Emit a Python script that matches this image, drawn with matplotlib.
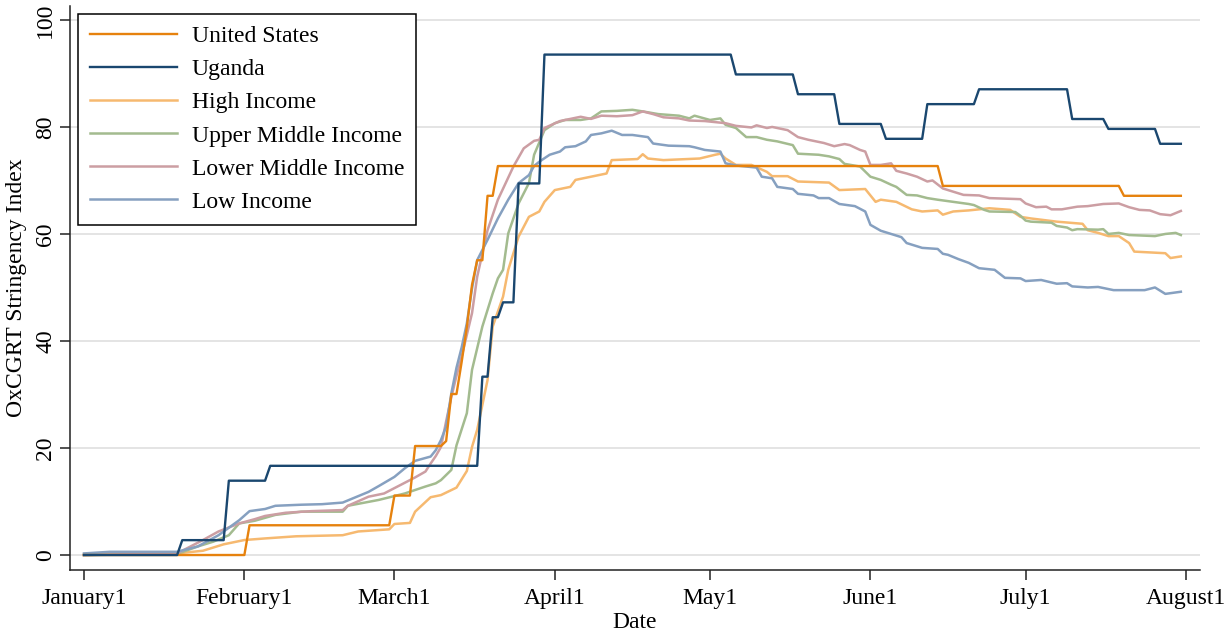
import matplotlib
matplotlib.use("Agg")
import matplotlib.pyplot as plt

plt.rcParams['font.family'] = ['Liberation Serif', 'DejaVu Serif']

# day offset from 2020-01-01 and OxCGRT stringency values
us = [(0, 0), (31, 0), (32, 5.56), (59, 5.56), (60, 11.11), (63, 11.11), (64, 20.37), (69, 20.37),
      (70, 21.3), (71, 30.09), (72, 30.09), (73, 36.1), (74, 42.59), (75, 50.5), (76, 55.09),
      (77, 55.09), (78, 67.13), (79, 67.13), (80, 72.69), (165, 72.69), (166, 68.98),
      (200, 68.98), (201, 67.13), (212, 67.13)]

uganda = [(0, 0), (18, 0), (19, 2.78), (27, 2.78), (28, 13.89), (35, 13.89), (36, 16.67),
          (76, 16.67), (77, 33.33), (78, 33.33), (79, 44.44), (80, 44.44), (81, 47.22),
          (83, 47.22), (84, 69.44), (88, 69.44), (89, 93.52), (125, 93.52), (126, 89.81),
          (137, 89.81), (138, 86.11), (145, 86.11), (146, 80.56), (154, 80.56), (155, 77.78),
          (162, 77.78), (163, 84.26), (172, 84.26), (173, 87.04), (190, 87.04), (191, 81.48),
          (197, 81.48), (198, 79.63), (207, 79.63), (208, 76.85), (212, 76.85)]

high = [(0, 0), (18, 0.3), (23, 0.8), (27, 2.0), (31, 2.8), (35, 3.1), (41, 3.5), (50, 3.7),
        (53, 4.4), (59, 4.8), (60, 5.8), (63, 6.0), (64, 8.1), (67, 10.8), (69, 11.2), (72, 12.6),
        (74, 15.7), (75, 20.2), (76, 23.4), (78, 32.7), (79, 42.7), (81, 48.3), (82, 53.3),
        (84, 59.5), (86, 63.2), (88, 64.2), (89, 66.0), (91, 68.2), (94, 68.8), (95, 70.1),
        (98, 70.7), (101, 71.3), (102, 73.8), (107, 74.0), (108, 74.9), (109, 74.1), (112, 73.8),
        (119, 74.1), (122, 74.8), (123, 75.0), (124, 74.1), (126, 72.9), (129, 72.9), (132, 71.6),
        (133, 70.8), (136, 70.8), (138, 69.8), (144, 69.6), (146, 68.2), (151, 68.4), (153, 66.0),
        (154, 66.4), (157, 66.0), (160, 64.6), (162, 64.2), (165, 64.4), (166, 63.6), (168, 64.2),
        (171, 64.4), (175, 64.8), (179, 64.5), (181, 63.2), (183, 62.9), (188, 62.3), (193, 61.9),
        (194, 60.7), (196, 60.2), (198, 59.6), (200, 59.6), (202, 58.3), (203, 56.7), (209, 56.4),
        (210, 55.5), (212, 55.8)]

upper_mid = [(0, 0), (18, 0.2), (22, 1.6), (25, 2.5), (28, 3.7), (30, 5.9), (33, 6.4), (37, 7.5),
             (42, 8.1), (50, 8.1), (51, 9.2), (57, 10.3), (62, 11.5), (66, 12.8), (68, 13.4),
             (69, 14.0), (71, 15.9), (72, 20.5), (73, 23.5), (74, 26.5), (75, 34.6), (77, 42.7),
             (79, 48.9), (80, 51.7), (81, 53.3), (82, 60.1), (84, 65.7), (86, 69.5), (87, 74.8),
             (89, 79.4), (91, 80.7), (93, 81.3), (96, 81.3), (98, 81.6), (100, 82.9), (103, 83.0),
             (106, 83.2), (108, 82.9), (111, 82.4), (115, 82.1), (117, 81.6), (118, 82.1),
             (121, 81.3), (123, 81.6), (124, 80.4), (126, 79.8), (128, 78.1), (130, 78.1),
             (132, 77.6), (134, 77.3), (137, 76.6), (138, 75.0), (142, 74.8), (144, 74.5),
             (146, 74.0), (147, 73.1), (150, 72.6), (152, 70.7), (154, 70.1), (156, 69.2),
             (157, 68.8), (159, 67.3), (161, 67.2), (163, 66.7), (165, 66.4), (168, 66.0),
             (171, 65.6), (172, 65.4), (174, 64.5), (175, 64.2), (180, 64.1), (181, 63.4),
             (182, 62.5), (183, 62.3), (187, 62.1), (188, 61.5), (190, 61.2), (191, 60.7),
             (192, 60.9), (196, 60.8), (197, 60.9), (198, 60.0), (200, 60.2), (202, 59.8),
             (207, 59.6), (209, 60.0), (211, 60.2), (212, 59.8)]

lower_mid = [(0, 0), (18, 0.3), (23, 2.8), (26, 4.4), (30, 5.9), (33, 6.7), (35, 7.3), (39, 7.9),
             (44, 8.2), (50, 8.4), (51, 9.2), (55, 10.9), (58, 11.5), (60, 12.5), (64, 14.5),
             (66, 15.6), (67, 17.1), (68, 18.5), (69, 20.2), (70, 25.0), (71, 29.5), (72, 33.5),
             (73, 37.1), (75, 45.2), (76, 52.0), (78, 60.7), (80, 66.4), (83, 72.6), (85, 76.0),
             (87, 77.4), (88, 77.6), (89, 79.8), (92, 81.1), (96, 81.9), (98, 81.5), (100, 82.1),
             (103, 82.0), (106, 82.2), (108, 82.9), (110, 82.4), (112, 81.8), (115, 81.6),
             (117, 81.2), (120, 81.1), (124, 80.7), (126, 80.2), (129, 79.9), (130, 80.3),
             (132, 79.8), (133, 80.0), (136, 79.4), (138, 78.1), (140, 77.6), (143, 77.0),
             (145, 76.4), (147, 76.8), (148, 76.6), (150, 75.7), (151, 75.4), (152, 72.9),
             (154, 72.9), (156, 73.2), (157, 71.8), (159, 71.3), (161, 70.7), (163, 69.8),
             (164, 70.0), (166, 68.5), (168, 67.9), (170, 67.3), (173, 67.2), (175, 66.7),
             (181, 66.5), (182, 65.7), (184, 65.0), (186, 65.1), (187, 64.6), (189, 64.6),
             (192, 65.1), (194, 65.2), (197, 65.6), (200, 65.7), (202, 65.0), (204, 64.5),
             (206, 64.4), (208, 63.7), (210, 63.5), (212, 64.3)]

low = [(0, 0.3), (5, 0.6), (18, 0.6), (22, 1.6), (26, 3.7), (30, 6.5), (32, 8.2), (35, 8.6),
       (37, 9.2), (42, 9.4), (46, 9.5), (50, 9.8), (52, 10.6), (55, 11.8), (57, 12.9), (60, 14.6),
       (62, 16.2), (64, 17.6), (67, 18.4), (68, 19.6), (69, 21.5), (70, 24.0), (71, 30.2),
       (72, 35.0), (73, 38.8), (74, 43.3), (75, 49.8), (76, 55.1), (78, 58.9), (80, 62.9),
       (82, 66.4), (84, 69.5), (86, 71.0), (87, 72.7), (88, 73.5), (90, 74.8), (92, 75.4),
       (93, 76.2), (95, 76.4), (97, 77.3), (98, 78.5), (100, 78.8), (102, 79.3), (104, 78.5),
       (106, 78.5), (109, 78.1), (110, 76.9), (113, 76.5), (117, 76.4), (118, 76.2), (120, 75.7),
       (123, 75.4), (124, 73.2), (126, 72.8), (130, 72.4), (131, 70.7), (133, 70.4), (134, 68.8),
       (137, 68.4), (138, 67.5), (141, 67.2), (142, 66.7), (144, 66.7), (146, 65.6), (149, 65.2),
       (151, 64.2), (152, 61.7), (154, 60.6), (156, 60.0), (158, 59.4), (159, 58.3), (162, 57.4),
       (165, 57.2), (166, 56.3), (167, 56.1), (169, 55.3), (171, 54.6), (173, 53.6), (176, 53.3),
       (178, 51.8), (181, 51.7), (182, 51.2), (185, 51.4), (188, 50.7), (190, 50.8), (191, 50.2),
       (194, 50.0), (196, 50.1), (199, 49.5), (205, 49.5), (207, 50.0), (209, 48.8), (212, 49.2)]

month_days = [0, 31, 60, 91, 121, 152, 182, 213]
month_labels = ['January1', 'February1', 'March1', 'April1', 'May1', 'June1', 'July1', 'August1']
y_ticks = [0, 20, 40, 60, 80, 100]

fig = plt.figure(figsize=(12.25, 6.31), dpi=100)
ax = fig.add_axes([70 / 1225, 1 - 570 / 631, 1130 / 1225, 564 / 631])

def xy(series):
    return [p[0] for p in series], [p[1] for p in series]

lines = {}
lines['hi'], = ax.plot(*xy(high), color='#f6b970', lw=1.8)
lines['um'], = ax.plot(*xy(upper_mid), color='#a3bb8f', lw=1.8)
lines['lm'], = ax.plot(*xy(lower_mid), color='#cc9ea3', lw=1.8)
lines['li'], = ax.plot(*xy(low), color='#86a0c0', lw=1.8)
lines['us'], = ax.plot(*xy(us), color='#e6820e', lw=1.7)
lines['ug'], = ax.plot(*xy(uganda), color='#1a476f', lw=1.7)

ax.set_xlim(-2.7, 215.7)
ax.set_ylim(-2.8, 102.6)
ax.set_yticks(y_ticks)
ax.set_yticklabels([str(v) for v in y_ticks], rotation=90, va='center', fontsize=17)
ax.set_xticks(month_days)
ax.set_xticklabels(month_labels, fontsize=17)
ax.tick_params(direction='out', length=7, width=1.1, color='#222222', pad=4)
ax.tick_params(axis='x', pad=6)
ax.tick_params(axis='y', pad=3)
ax.grid(axis='y', color='#e4e4e4', lw=1.4)
ax.set_axisbelow(True)
for s in ['top', 'right']:
    ax.spines[s].set_visible(False)
for s in ['left', 'bottom']:
    ax.spines[s].set_linewidth(1.1)
    ax.spines[s].set_color('#222222')

ax.set_xlabel('Date', fontsize=17, labelpad=2)
ax.set_ylabel('OxCGRT Stringency Index', fontsize=17, labelpad=6)

leg = ax.legend([lines['us'], lines['ug'], lines['hi'], lines['um'], lines['lm'], lines['li']],
                ['United States', 'Uganda', 'High Income', 'Upper Middle Income',
                 'Lower Middle Income', 'Low Income'],
                loc='upper left', bbox_to_anchor=(0.007, 0.986), borderaxespad=0,
                fontsize=17, handlelength=3.7, handletextpad=0.62, labelspacing=0.49,
                fancybox=False, framealpha=1, edgecolor='black', borderpad=0.5)
leg.get_frame().set_linewidth(1.1)

fig.savefig('out.png', dpi=100)
